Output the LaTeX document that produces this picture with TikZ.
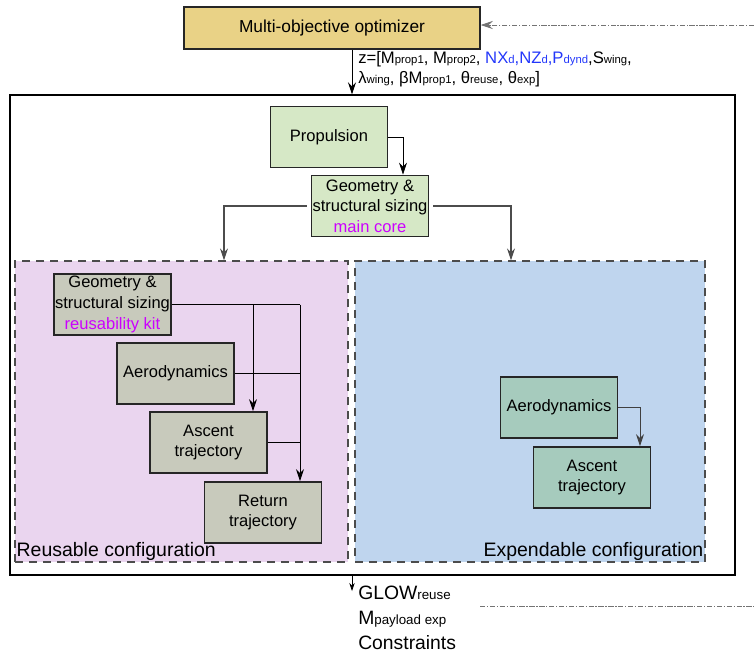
\documentclass[tikz,border=0pt]{standalone}
\usepackage{fontspec}
\setmainfont{Liberation Sans}
\usepackage{tikz}
\usetikzlibrary{arrows.meta}
\definecolor{optgold}{RGB}{233,210,134}
\definecolor{coregreen}{RGB}{214,232,198}
\definecolor{kitgrey}{RGB}{200,202,188}
\definecolor{expteal}{RGB}{166,203,189}
\definecolor{reusepink}{RGB}{234,213,239}
\definecolor{expblue}{RGB}{191,213,238}
\definecolor{kitmagenta}{RGB}{204,0,255}
\definecolor{varblue}{RGB}{35,55,250}
\newcommand{\subtxt}[1]{{\fontsize{8.5}{9}\selectfont #1}}
\newcommand{\subbig}[1]{{\fontsize{10}{11}\selectfont #1}}
\tikzset{
block/.style={draw=black!85, line width=1.1pt, minimum width=88pt, minimum height=46pt, inner sep=0pt, align=center, font=\fontsize{12.4}{15.5}\selectfont},
config/.style={draw=black!70, dashed, dash pattern=on 6pt off 4.5pt, line width=0.9pt, inner sep=0pt},
arr/.style={-{Stealth[length=9pt,width=6pt,inset=3pt]}},
feedback/.style={draw=black!55, dash pattern=on 4pt off 1.2pt on 1pt off 1.2pt, line width=0.6pt}
}

\begin{document}
\begin{tikzpicture}[x=0.75pt,y=-0.75pt]

            \useasboundingbox (0,0) rectangle (754,654);

            \node[draw=black, line width=1.1pt, minimum width=543.75pt, minimum height=360pt] (sys) at (372.5,335) {};
            \node[config, fill=reusepink, minimum width=249.75pt, minimum height=225.75pt] (reuse) at (181.5,411.5) {};
            \node[config, fill=expblue, minimum width=262.5pt, minimum height=225.75pt] (exp) at (530,411.5) {};

            \node[block, fill=optgold, minimum width=222pt, minimum height=31.5pt, font=\fontsize{13}{15}\selectfont] (opt) at (332,28) {Multi-objective optimizer};
            \node[block, fill=coregreen] (prop) at (329,137) {Propulsion};
            \node[block, fill=coregreen] (geomain) at (370,206) {Geometry \&\\structural sizing\\\textcolor{kitmagenta}{main core}};

            \node[block, fill=kitgrey] (geokit) at (112.5,304.5) {Geometry \&\\structural sizing\\\textcolor{kitmagenta}{reusability kit}};
            \node[block, fill=kitgrey] (aeroR) at (175.5,373.5) {Aerodynamics};
            \node[block, fill=kitgrey] (ascR) at (208.5,442.5) {Ascent\\trajectory};
            \node[block, fill=kitgrey] (retR) at (263,512.5) {Return\\trajectory};

            \node[block, fill=expteal] (aeroE) at (559,407.5) {Aerodynamics};
            \node[block, fill=expteal] (ascE) at (592,477.5) {Ascent\\trajectory};

            \node[anchor=south west, inner sep=1.5pt, font=\fontsize{14.6}{16}\selectfont] (reuselab) at (reuse.south west) {Reusable configuration};
            \node[anchor=south east, inner sep=1.5pt, font=\fontsize{14.6}{16}\selectfont] (explab) at (exp.south east) {Expendable configuration};

            \node[anchor=north west, inner sep=0pt, align=left, font=\fontsize{12.5}{15}\selectfont] (zvec) at (358,51) {z=[M\subtxt{prop1}, M\subtxt{prop2}, \textcolor{varblue}{NX\subtxt{d},NZ\subtxt{d},P\subtxt{dynd}},S\subtxt{wing},\\λ\subtxt{wing}, βM\subtxt{prop1}, θ\subtxt{reuse}, θ\subtxt{exp}]};
            \node[anchor=north west, inner sep=0pt, align=left, font=\fontsize{14.5}{18.5}\selectfont] (res) at (358,586) {GLOW\subbig{reuse}\\M\subbig{payload exp}\\Constraints};

            \coordinate (zin) at (352,0);
            \coordinate (pj) at (403,0);
            \coordinate (lft) at (224,0);
            \coordinate (rgt) at (511,0);
            \coordinate (ja) at (253,0);
            \coordinate (jb) at (300,0);
            \coordinate (ej) at (640,0);
            \coordinate (outp) at (352,591);
            \coordinate (fbin) at (754,25);
            \coordinate (fbs) at (480,606);
            \coordinate (fbe) at (754,606);

            \draw[arr, line width=0.6pt] (opt.south -| zin) -- (sys.north -| zin);
            \draw[arr, line width=0.6pt] (prop.east) -| (geomain.north -| pj);
            \draw[arr, line width=0.9pt, draw=black!70] ([xshift=-3pt]geomain.west) -| (lft |- reuse.north);
            \draw[arr, line width=0.9pt, draw=black!70] ([xshift=3pt]geomain.east) -| (rgt |- exp.north);

            \draw[line width=0.6pt] (geokit.east) -- (geokit.east -| jb);
            \draw[arr, line width=0.6pt] (geokit.east -| ja) -- (ascR.north -| ja);
            \draw[arr, line width=0.6pt] (geokit.east -| jb) -- (retR.north -| jb);
            \draw[line width=0.6pt] (aeroR.east) -- (aeroR.east -| jb);
            \draw[line width=0.6pt] (ascR.east) -- (ascR.east -| jb);

            \draw[arr, line width=0.6pt, draw=black!75] (aeroE.east) -| (ascE.north -| ej);

            \draw[line width=0.5pt, -{Stealth[length=6pt,width=4pt,inset=2pt]}] (sys.south -| zin) -- (outp);
            \draw[feedback, arr] (fbin) -- (fbin -| opt.east);
            \draw[feedback] (fbs) -- (fbe);

\end{tikzpicture}
\end{document}
